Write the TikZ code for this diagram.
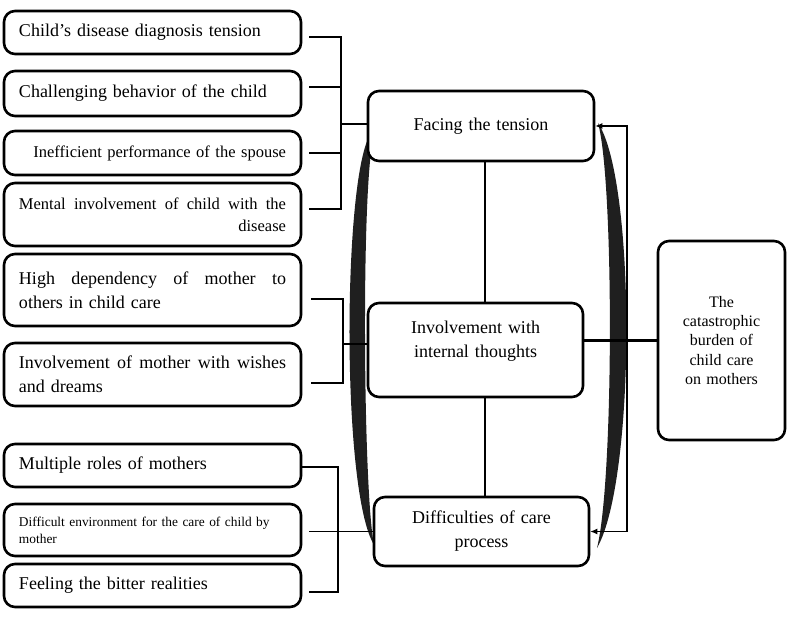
\documentclass[tikz,border=0pt]{standalone}
\usepackage{fontspec}
\setmainfont{Liberation Serif}
\usetikzlibrary{arrows.meta}
\newcommand{\fullline}[1]{\hbox to 267pt{#1}}
\begin{document}
\begin{tikzpicture}[x=1pt,y=-1pt,
  box/.style={draw, line width=2.6pt, rounded corners=11pt, fill=white, inner sep=0pt,
              font=\fontsize{18}{24}\selectfont},
  lbox/.style={box, minimum width=297pt, text width=267pt, align=left},
  cbox/.style={box, text width=200pt, align=center},
  thin/.style={line width=1.1pt},
  cres/.style={fill=black!88, draw=none}]
\useasboundingbox (0,0) rectangle (795,617);
% crescents
\path[cres] (370,135) .. controls (343,180) and (341,490) .. (374,545)
            .. controls (363,490) and (361,180) .. (374,135) -- cycle;
\path[cres] (598,123) .. controls (636,180) and (636,480) .. (597,548)
            .. controls (614,480) and (614,180) .. (598,123) -- cycle;
% left boxes
\node[lbox, minimum height=43] (b1) at (152.5,32.5) {Child's disease diagnosis tension};
\node[lbox, minimum height=45] (b2) at (152.5,93.5) {Challenging behavior of the child};
\node[lbox, minimum height=44, align=right, font=\fontsize{16.5}{20}\selectfont] (b3) at (152.5,153) {Inefficient performance of the spouse};
\node[lbox, minimum height=63, font=\fontsize{16.5}{22}\selectfont] (b4) at (152.5,214.5)
  {\fullline{Mental\hfill involvement\hfill of\hfill child\hfill with\hfill the}\\\fullline{\hfill disease}};
\node[lbox, minimum height=72] (b5) at (152.5,290)
  {\fullline{High\hfill dependency\hfill of\hfill mother\hfill to}\\others in child care};
\node[lbox, minimum height=63] (b6) at (152.5,374.5)
  {\fullline{Involvement\hfill of\hfill mother\hfill with\hfill wishes}\\and dreams};
\node[lbox, minimum height=43] (b7) at (152.5,465.5) {Multiple roles of mothers};
\node[lbox, minimum height=52, font=\fontsize{13.4}{16.7}\selectfont] (b8) at (152.5,530)
  {Difficult environment for the care of child by\\mother};
\node[lbox, minimum height=43] (b9) at (152.5,585.5) {Feeling the bitter realities};
% centre boxes
\node[cbox, minimum width=226, minimum height=70] (F) at (481,126) {Facing the tension};
\node[cbox, minimum width=215, minimum height=94] (I) at (475.5,350)
  {Involvement with\\internal thoughts\\[-3pt]\mbox{}};
\node[cbox, minimum width=215, minimum height=69] (D) at (481.5,531.5) {Difficulties of care\\process};
% right box
\node[box, minimum width=127, minimum height=199, text width=110pt, align=center,
      font=\fontsize{16}{19.4}\selectfont] (R) at (721.5,340.5)
  {The\\catastrophic\\burden of\\child care\\on mothers};
% junction coordinates
\coordinate (j1) at (341,0);
\coordinate (j2) at (343,0);
\coordinate (j3) at (338,0);
\coordinate (k) at (627,0);
% bracket 1
\draw[thin] ([xshift=7pt,yshift=-4.5pt]b1.east) -- ([yshift=-4.5pt]b1.east -| j1)
            -- ([yshift=5.5pt]b4.east -| j1) -- ([xshift=7pt,yshift=5.5pt]b4.east);
\draw[thin] ([xshift=7pt,yshift=6.5pt]b2.east) -- ([yshift=6.5pt]b2.east -| j1);
\draw[thin] ([xshift=7pt]b3.east) -- (b3.east -| j1);
\draw[thin] ([yshift=2pt]F.west) -- ([yshift=2pt]F.west -| j1);
% bracket 2
\draw[thin] ([xshift=9pt,yshift=-9pt]b5.east) -- ([yshift=-9pt]b5.east -| j2)
            -- ([yshift=-8.5pt]b6.east -| j2) -- ([xshift=9pt,yshift=-8.5pt]b6.east);
\draw[thin] ([yshift=6pt]I.west) -- ([yshift=6pt]I.west -| j2);
% bracket 3
\draw[thin] ([yshift=-1.5pt]b7.east) -- ([yshift=-1.5pt]b7.east -| j3)
            -- ([yshift=-6.5pt]b9.east -| j3) -- ([xshift=7pt,yshift=-6.5pt]b9.east);
\draw[thin] ([xshift=7pt,yshift=-1.5pt]b8.east) -- ([yshift=-1.5pt]b8.east -| D.west);
% centre verticals
\draw[thin] (F.south -| 485,0) -- (I.north -| 485,0);
\draw[thin] (I.south -| 485,0) -- (D.north -| 485,0);
% thick link to right box
\draw[line width=3pt] (R.west -| I.east) -- (R.west);
% right loop arrow
\draw[thin, {Latex[length=7pt,width=6pt]}-{Latex[length=7pt,width=6pt]}]
  (F.east) -- (F.east -| k) -- (k |- D.east) -- (D.east);
\end{tikzpicture}
\end{document}
